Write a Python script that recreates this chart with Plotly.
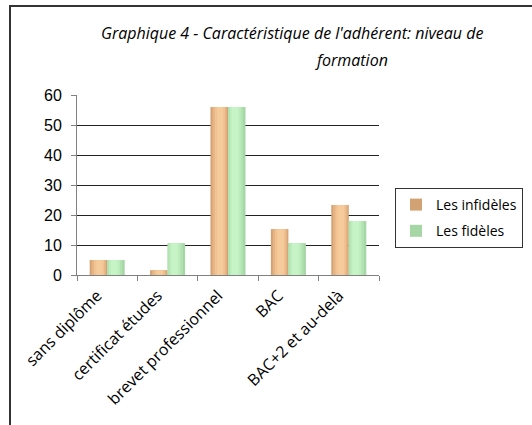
import plotly.graph_objects as go

categories = ["sans diplôme", "certificat études", "brevet professionnel", "BAC", "BAC+2 et au-delà"]
infideles = [5, 1.6, 56, 15.3, 23.3]
fideles = [5, 10.6, 56, 10.6, 18]
series_names = ["Les infidèles", "Les fidèles"]
y_ticks = [0, 10, 20, 30, 40, 50, 60]

W, H = 532, 425
# target plot area in page coordinates: x 77..379, y 95..275
L, T = 77, 95
R, B = W - 379, H - 275
pw, ph = W - L - R, H - T - B

def px(x):
    return (x - L) / pw

def py(y):
    return (H - B - y) / ph

BW = 0.29
fig = go.Figure()

def add_series(vals, name, base_off, shades, group):
    fig.add_trace(go.Bar(x=categories, y=vals, name=name, offset=base_off, width=BW,
                         marker=dict(color=shades[0], line=dict(width=0)),
                         legendgroup=group, showlegend=True, hoverinfo="skip"))
    for dx, w, c in shades[1:]:
        fig.add_trace(go.Bar(x=categories, y=vals, offset=base_off + dx, width=w,
                             marker=dict(color=c, line=dict(width=0)),
                             legendgroup=group, showlegend=False, hoverinfo="skip"))

add_series(infideles, series_names[0], -BW,
           ["#D3A273", (0.03, 0.24, "#E6B484"), (0.07, 0.17, "#F1C392"), (0.11, 0.10, "#F6CB9C")], "g1")
add_series(fideles, series_names[1], 0,
           ["#A6D6A6", (0.0, 0.25, "#B2E2B2"), (0.03, 0.18, "#BDEDBD"), (0.06, 0.11, "#C6F4C6")], "g2")

fig.update_layout(
    width=W, height=H,
    margin=dict(l=L, r=R, t=T, b=B, pad=0, autoexpand=False),
    paper_bgcolor="white", plot_bgcolor="white",
    barmode="overlay",
    showlegend=True,
    legend=dict(x=px(395), y=py(188), xanchor="left", yanchor="top",
                bordercolor="#333333", borderwidth=1, bgcolor="white",
                font=dict(family="Open Sans", size=14, color="black"),
                traceorder="grouped", tracegroupgap=5,
                itemwidth=30),
    xaxis=dict(type="category", showgrid=False, showline=True, linecolor="#808080", linewidth=1,
               ticks="outside", ticklen=5, tickcolor="#808080", tickson="boundaries",
               tickangle=-45, tickfont=dict(family="Open Sans", size=16, color="black"),
               ticklabelshift=-10, ticklabelstandoff=4,
               range=[-0.5, 4.5], fixedrange=True, automargin=False),
    yaxis=dict(range=[0, 60], tickvals=y_ticks, showgrid=True, gridcolor="#222222", gridwidth=1,
               showline=True, linecolor="#808080", linewidth=1, ticks="outside", ticklen=5,
               tickcolor="#808080", tickfont=dict(family="Liberation Sans", size=16, color="black"),
               ticklabelstandoff=6, zeroline=False, fixedrange=True, automargin=False),
)

fig.add_annotation(text="Graphique 4 - Caractéristique de l'adhérent: niveau de",
                   xref="paper", yref="paper", x=px(292), y=py(33), xanchor="center", yanchor="middle",
                   showarrow=False, font=dict(family="Open Sans", size=16, color="black", style="italic"))
fig.add_annotation(text="formation",
                   xref="paper", yref="paper", x=px(351), y=py(60), xanchor="center", yanchor="middle",
                   showarrow=False, font=dict(family="Open Sans", size=16, color="black", style="italic"))

# outer chart border (top and left edges visible in the frame)
fig.add_shape(type="rect", xref="paper", yref="paper", x0=px(10), y0=py(6), x1=px(620), y1=py(520),
              line=dict(color="#333333", width=2), fillcolor="rgba(0,0,0,0)", layer="above")

fig.write_html("out.html", config={"displayModeBar": False},
               post_script="document.body.style.margin='0';")
